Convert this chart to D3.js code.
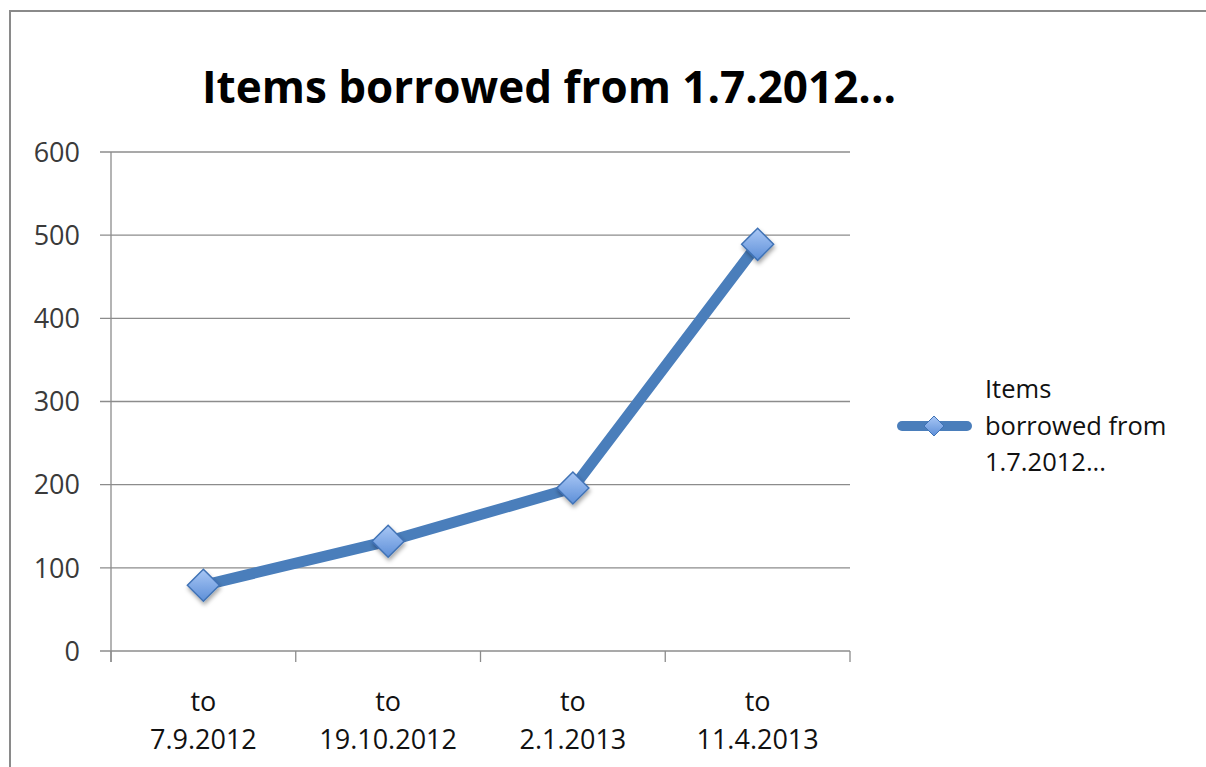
<!DOCTYPE html>
<html><head><meta charset="utf-8">
<script src="https://cdn.jsdelivr.net/npm/d3@7"></script>
<style>body{margin:0;background:#fff}svg{display:block}</style>
</head><body>
<svg id="c" width="1206" height="767"></svg>
<script>
const title = "Items borrowed from 1.7.2012...";
const categories = ["to\n7.9.2012", "to\n19.10.2012", "to\n2.1.2013", "to\n11.4.2013"];
const values = [79, 132, 196, 489];
const yTicks = [0, 100, 200, 300, 400, 500, 600];
const legendLines = ["Items", "borrowed from", "1.7.2012..."];

const svg = d3.select("#c");
const font = "'Open Sans', 'Noto Sans', sans-serif";
const defs = svg.append("defs");
const g1 = defs.append("linearGradient").attr("id","mk").attr("x1",0).attr("y1",0).attr("x2",0).attr("y2",1);
g1.append("stop").attr("offset","0%").attr("stop-color","#a9c7f5");
g1.append("stop").attr("offset","100%").attr("stop-color","#5d8fd8");
const f = defs.append("filter").attr("id","sh").attr("x","-50%").attr("y","-50%").attr("width","200%").attr("height","200%");
f.append("feDropShadow").attr("dx",1).attr("dy",3).attr("stdDeviation",2).attr("flood-color","#000").attr("flood-opacity",0.35);

// border
svg.append("rect").attr("x",10).attr("y",11).attr("width",1260).attr("height",800)
  .attr("fill","none").attr("stroke","#8a8a8a").attr("stroke-width",2);

const L = 111, R = 850, T = 152, B = 651;
const x = d3.scaleBand().domain(categories).range([L, R]);
const y = d3.scaleLinear().domain([0, 600]).range([B, T]);

// gridlines
svg.append("g").selectAll("line").data(yTicks).join("line")
  .attr("x1", L - 11).attr("x2", R).attr("y1", d => y(d)).attr("y2", d => y(d))
  .attr("stroke", "#8c8c8c").attr("stroke-width", 1.3);
// y axis line
svg.append("line").attr("x1",L).attr("x2",L).attr("y1",T).attr("y2",B+11).attr("stroke","#8c8c8c").attr("stroke-width",1.3);
// x ticks
const xt = categories.map(c => x(c)).concat([R]);
svg.append("g").selectAll("line").data(xt).join("line")
  .attr("x1", d => d).attr("x2", d => d).attr("y1", B).attr("y2", B + 11)
  .attr("stroke", "#8c8c8c").attr("stroke-width", 1.3);

// y labels
svg.append("g").selectAll("text").data(yTicks).join("text")
  .attr("x", 80).attr("y", d => y(d)).attr("dy", "0.36em").attr("text-anchor","end")
  .attr("font-family", font).attr("font-size", 27).attr("fill","#3a3a3a").text(d => d);

// x labels
const xl = svg.append("g").selectAll("text").data(categories).join("text")
  .attr("x", d => x(d) + x.bandwidth()/2).attr("y", 711).attr("text-anchor","middle")
  .attr("font-family", font).attr("font-size", 27).attr("fill","#111");
xl.each(function(d){
  const t = d3.select(this);
  d.split("\n").forEach((s,i) => t.append("tspan").attr("x", x(d) + x.bandwidth()/2).attr("dy", i ? 38 : 0).text(s));
});

// title
svg.append("text").attr("x", 549).attr("y", 103).attr("text-anchor","middle")
  .attr("font-family", font).attr("font-weight","bold").attr("font-size", 44).attr("fill","#000").text(title);

// line
const line = d3.line().x((d,i) => x(categories[i]) + x.bandwidth()/2).y(d => y(d));
svg.append("path").datum(values).attr("d", line).attr("fill","none")
  .attr("stroke","#4a7ebb").attr("stroke-width",11).attr("stroke-linejoin","round");

const diamond = s => `M0,${-s}L${s},0L0,${s}L${-s},0Z`;
svg.append("g").selectAll("path").data(values).join("path")
  .attr("transform", (d,i) => `translate(${x(categories[i]) + x.bandwidth()/2},${y(d)})`)
  .attr("d", diamond(16)).attr("fill","url(#mk)").attr("stroke","#3f72b5").attr("stroke-width",1.5)
  .attr("filter","url(#sh)");

// legend
svg.append("line").attr("x1",902).attr("x2",967).attr("y1",426).attr("y2",426)
  .attr("stroke","#4a7ebb").attr("stroke-width",10).attr("stroke-linecap","round");
svg.append("path").attr("transform","translate(934,426)").attr("d", diamond(10))
  .attr("fill","url(#mk)").attr("stroke","#3f72b5").attr("stroke-width",1);
svg.append("g").selectAll("text").data(legendLines).join("text")
  .attr("x", 985).attr("y", (d,i) => 398 + i*36.5)
  .attr("font-family", font).attr("font-size", 25.5).attr("fill","#111").text(d => d);
</script>
</body></html>
